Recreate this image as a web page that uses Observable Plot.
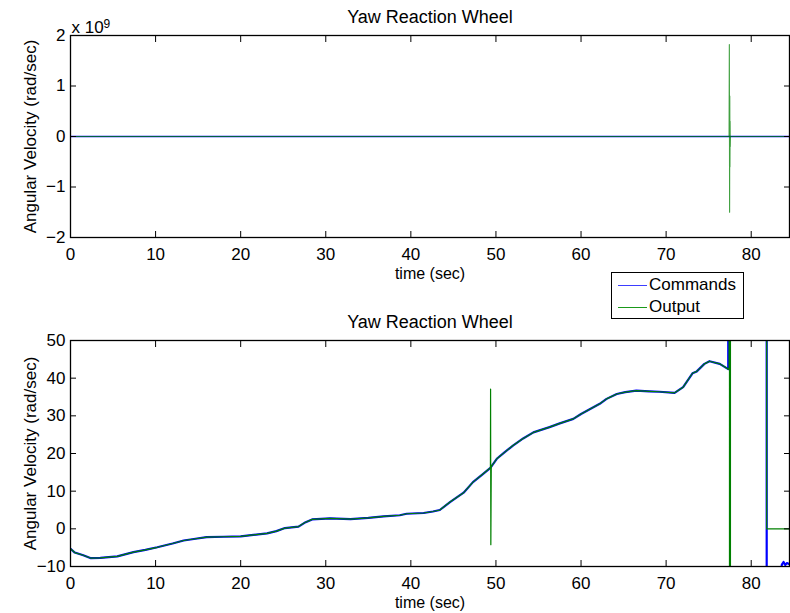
<!DOCTYPE html>
<html><head><meta charset="utf-8">
<script src="https://cdn.jsdelivr.net/npm/d3@7"></script>
<script src="https://cdn.jsdelivr.net/npm/@observablehq/plot@0.6"></script>
<style>
body{margin:0;background:#fff;}
#wrap{position:relative;width:790px;height:613px;background:#fff;font-family:"Liberation Sans",Arial,Helvetica,sans-serif;overflow:hidden;}
#top{position:absolute;left:0;top:0}
#bot{position:absolute;left:0;top:290px}
#legend{position:absolute;left:611px;top:272px;width:133px;height:47px;border:1px solid #000;background:#fff;font-size:17px;box-sizing:border-box;}
#legend .ln{position:absolute;left:6px;width:29px;height:1px}
#legend .lt{position:absolute;left:37px;line-height:17px;color:#000}
</style></head><body>
<div id="wrap"><div id="top"></div><div id="bot"></div>
<div id="legend">
  <div class="ln" style="top:12px;background:#3d3dff"></div><div class="lt" style="top:3px">Commands</div>
  <div class="ln" style="top:34px;background:#1a991a"></div><div class="lt" style="top:25px">Output</div>
</div></div>
<script>
// ---- data ----
const title = "Yaw Reaction Wheel";
const xLabel = "time (sec)";
const yLabel = "Angular Velocity (rad/sec)";
const seriesNames = ["Commands", "Output"];
const seriesColors = ["#0000ff", "#008000"];

// shared trajectory (both series follow it until ~77.3 s)
const baseTime = [0, 0.5, 1.5, 2.4, 3.5, 5.5, 7.4, 8.8, 10.2, 12.0, 13.3, 14.5, 16.0, 18.0, 20.0, 21.5, 23.1, 24.2, 25.2, 26.8, 27.5, 28.4, 30.5, 32.9, 35.0, 36.8, 38.7, 39.5, 41.5, 42.6, 43.4, 44.6, 46.2, 47.3, 48.5, 49.35];
const baseValue = [-5.3, -6.3, -7.0, -7.8, -7.7, -7.3, -6.2, -5.6, -4.9, -3.9, -3.1, -2.7, -2.2, -2.1, -2.0, -1.6, -1.2, -0.6, 0.2, 0.6, 1.6, 2.5, 2.8, 2.6, 2.9, 3.3, 3.6, 4.0, 4.2, 4.6, 5.0, 7.1, 9.6, 12.4, 14.6, 16.2];
const midTime = [49.45, 50.1, 51.0, 52.0, 53.2, 54.4, 56.3, 57.5, 59.1, 60.0, 62.2, 63.0, 64.2, 65.2, 66.5, 68.0, 69.2, 71.0, 72.0, 73.1, 73.6, 74.5, 75.1, 76.3, 77.3];
const midValue = [16.5, 18.6, 20.3, 22.1, 24.0, 25.6, 27.0, 28.0, 29.2, 30.5, 33.2, 34.5, 35.8, 36.3, 36.7, 36.5, 36.4, 36.1, 37.6, 41.3, 41.8, 43.8, 44.5, 43.8, 42.4];

// Commands tail after 77.3 s
const cmdTailTime = [77.45, 81.8, 81.82, 83.5, 83.6, 83.8, 84.0, 84.2, 84.5];
const cmdTailValue = [1000, 1000, -12, -12, -9.5, -8.8, -9.6, -9.1, -9.4];

// Output extras: glitch near 49.4 s and blow-up near 77.5 s
const outGlitchTime = [49.37, 49.40];
const outGlitchValue = [37.1, -4.2];
const outTailTime = [77.40, 77.43, 77.46, 77.48, 77.50, 77.52, 77.54, 77.56, 77.6, 81.8, 81.82, 84.5];
const outTailValue = [42.3, 1.82e9, -1.5e9, 8e8, -6e8, 3e8, -2e8, 1000, 1000, 1000, 0, 0];

const xTicks = [0, 10, 20, 30, 40, 50, 60, 70, 80];
const yTicksTop = [-2e9, -1e9, 0, 1e9, 2e9];
const yTicksBot = [-10, 0, 10, 20, 30, 40, 50];

// ---- build series ----
const zip = (ts, vs, s) => ts.map((t, i) => ({t, v: vs[i], s}));
const commands = [...zip(baseTime, baseValue, seriesNames[0]), ...zip(midTime, midValue, seriesNames[0]), ...zip(cmdTailTime, cmdTailValue, seriesNames[0])];
const output = [...zip(baseTime, baseValue, seriesNames[1]), ...zip(outGlitchTime, outGlitchValue, seriesNames[1]), ...zip(midTime, midValue, seriesNames[1]), ...zip(outTailTime, outTailValue, seriesNames[1])];

const FONT = '"Liberation Sans", Arial, Helvetica, sans-serif';
const minus = s => String(s).replace("-", "\u2212");

function panel({height, mTop, mBottom, yDomain, yTicks, yFmt, blueW, greenW, greenOp, extra = []}) {
  return Plot.plot({
    width: 790, height,
    marginLeft: 70, marginRight: 1, marginTop: mTop, marginBottom: mBottom,
    style: {fontFamily: FONT, fontSize: "17px", background: "white", color: "black", overflow: "visible"},
    x: {domain: [0, 84.5]},
    y: {domain: yDomain},
    marks: [
      Plot.line(commands, {x: "t", y: "v", stroke: seriesColors[0], strokeWidth: blueW, clip: true}),
      Plot.line(output, {x: "t", y: "v", stroke: seriesColors[1], strokeWidth: greenW, strokeOpacity: greenOp, clip: true}),
      Plot.frame({stroke: "black", strokeWidth: 1.3}),
      Plot.axisX({ticks: xTicks, tickSize: 0, tickPadding: 10, label: null, tickFormat: d => String(d)}),
      Plot.axisX({ticks: xTicks, tickSize: -6, tickFormat: () => "", label: null}),
      Plot.axisX({anchor: "top", ticks: xTicks, tickSize: -6, tickFormat: () => "", label: null}),
      Plot.axisY({ticks: yTicks, tickSize: 0, tickPadding: 5, label: null, tickFormat: yFmt}),
      Plot.axisY({ticks: yTicks, tickSize: -6, tickFormat: () => "", label: null}),
      Plot.axisY({anchor: "right", ticks: yTicks, tickSize: -6, tickFormat: () => "", label: null}),
      Plot.text([title], {frameAnchor: "top", dy: -13, lineAnchor: "bottom", fontSize: 18, text: d => d}),
      Plot.text([xLabel], {frameAnchor: "bottom", dy: 41, lineAnchor: "bottom", fontSize: 16, text: d => d}),
      Plot.text([yLabel], {frameAnchor: "left", textAnchor: "middle", dx: -40, rotate: -90, fontSize: 17, text: d => d}),
      ...extra
    ]
  });
}

const topChart = panel({
  height: 290, mTop: 35, mBottom: 53,
  yDomain: [-2e9, 2e9], yTicks: yTicksTop,
  yFmt: d => minus(d / 1e9),
  blueW: 1.6, greenW: 1.1, greenOp: 0.75,
  extra: [
    Plot.text(["x 10"], {frameAnchor: "top-left", textAnchor: "start", lineAnchor: "bottom", dx: 1, dy: -3, fontSize: 17, text: d => d}),
    Plot.text(["9"], {frameAnchor: "top-left", textAnchor: "start", lineAnchor: "bottom", dx: 33, dy: -8, fontSize: 12, text: d => d})
  ]
});
const botChart = panel({
  height: 323, mTop: 50, mBottom: 47,
  yDomain: [-10, 50], yTicks: yTicksBot,
  yFmt: d => minus(d),
  blueW: 2.2, greenW: 1.2, greenOp: 1
});
document.getElementById("top").append(topChart);
document.getElementById("bot").append(botChart);
</script>
</body></html>
